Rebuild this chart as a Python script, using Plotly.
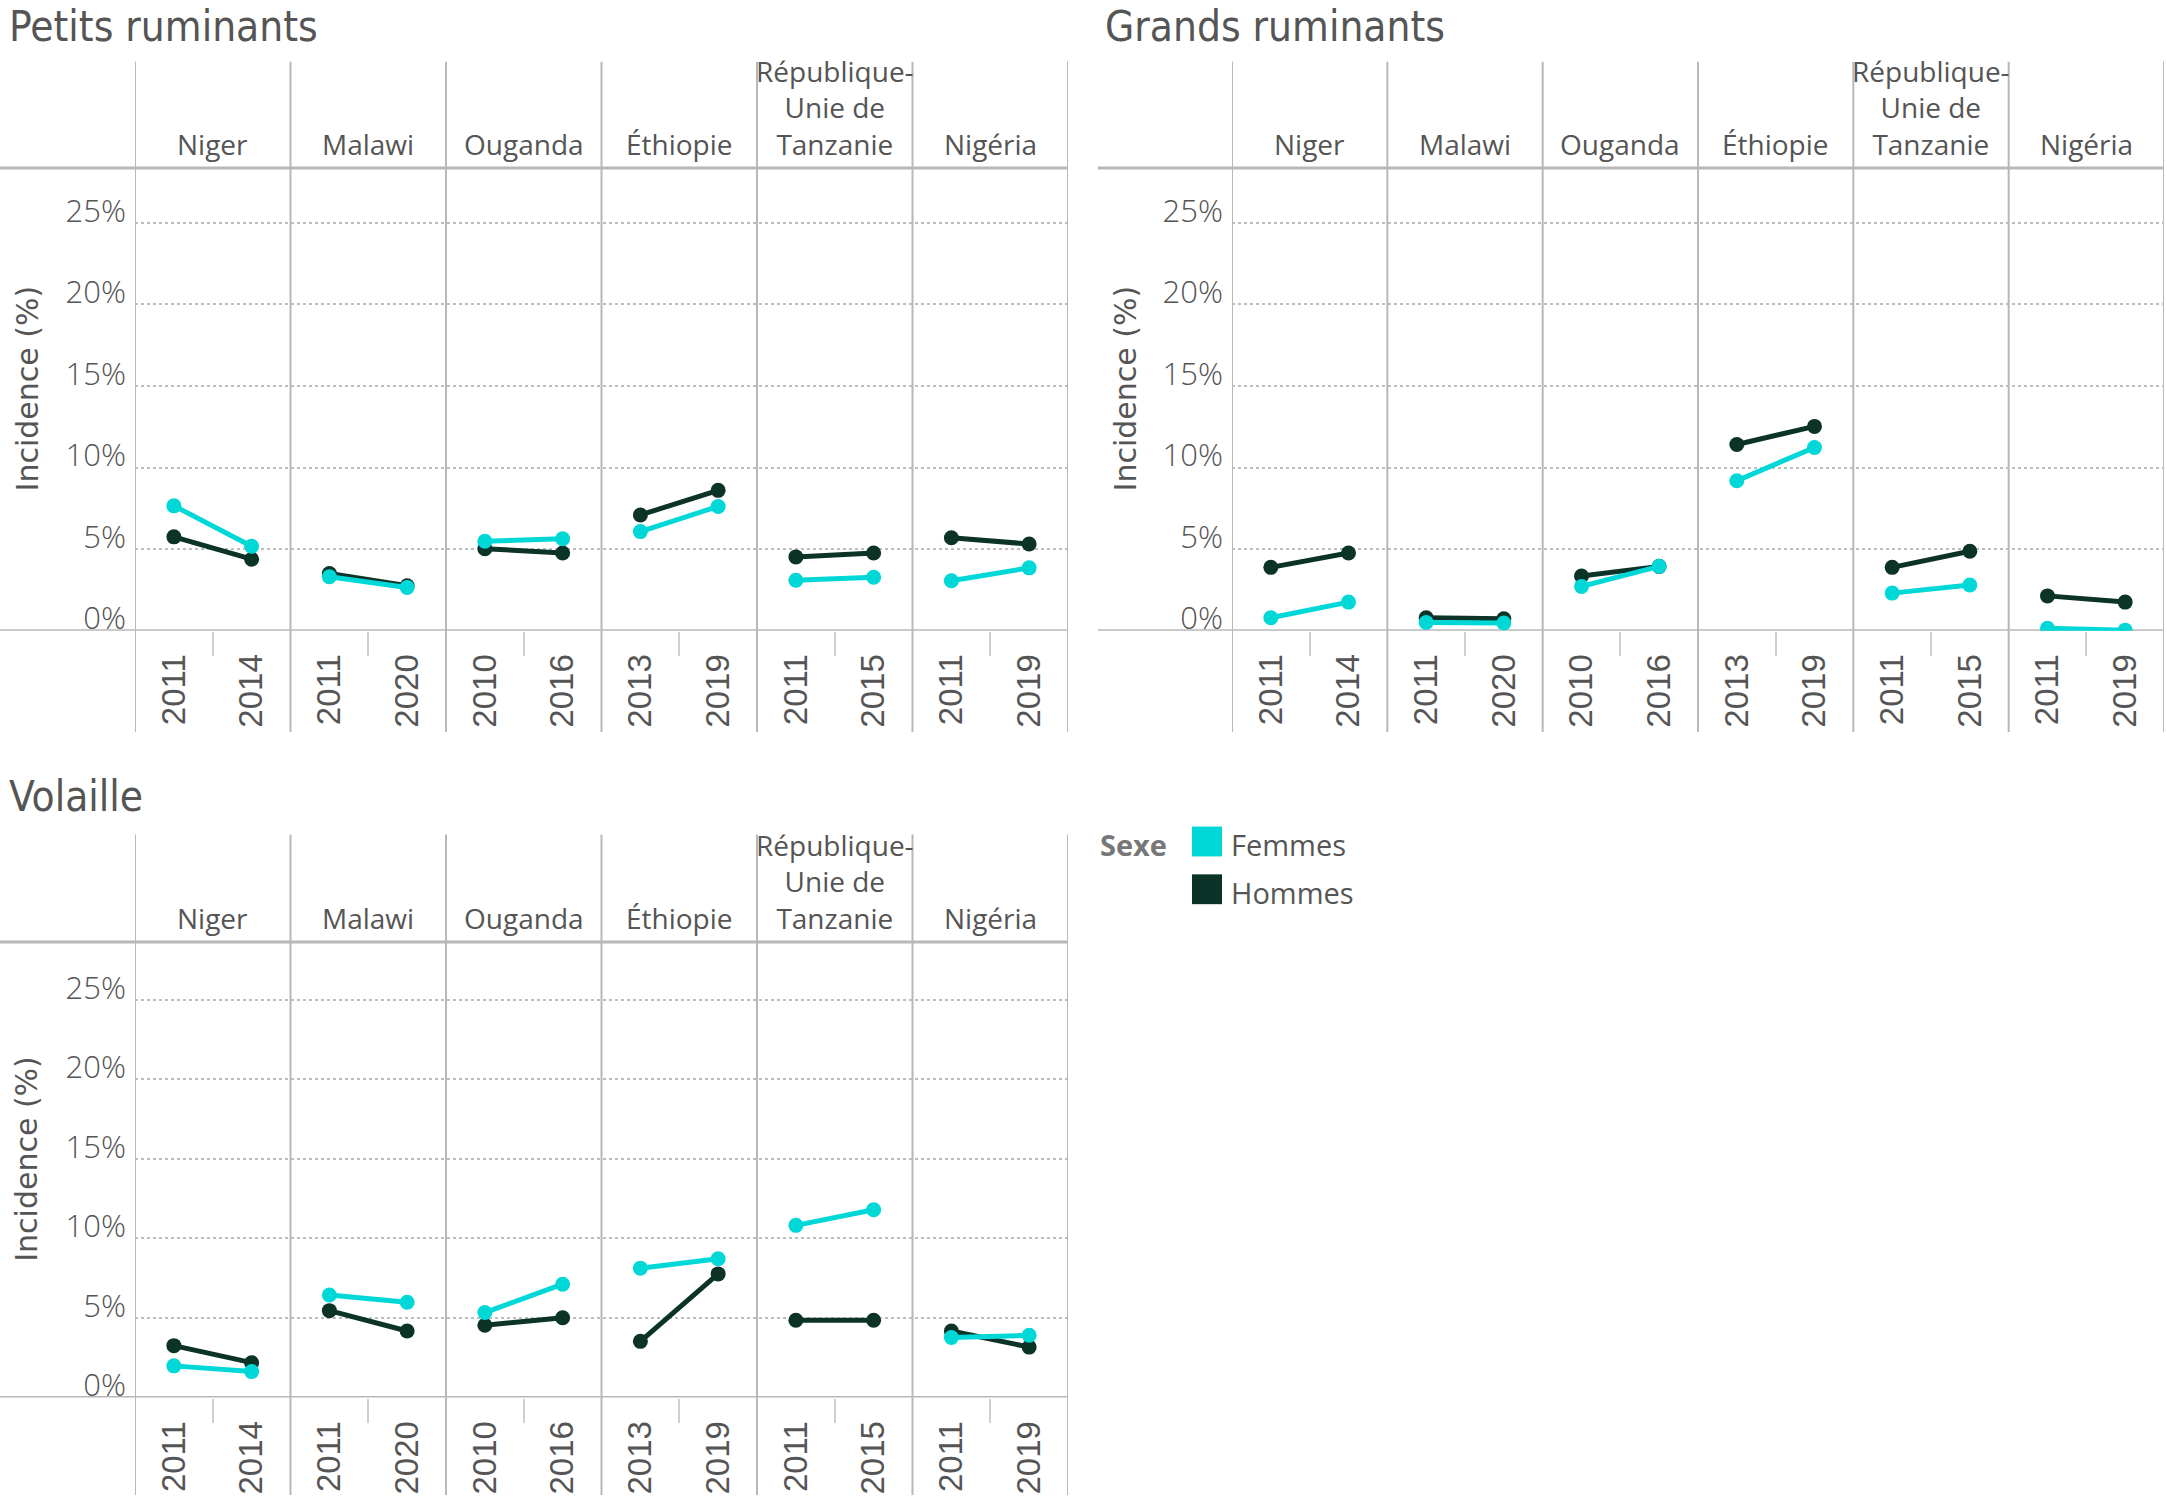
import plotly.graph_objects as go

# ---------------- data ----------------
pays = ["Niger", "Malawi", "Ouganda", "Éthiopie", "République-Unie de Tanzanie", "Nigéria"]
pays_lignes = [["Niger"], ["Malawi"], ["Ouganda"], ["Éthiopie"],
               ["République-", "Unie de", "Tanzanie"], ["Nigéria"]]
annees = [["2011", "2014"], ["2011", "2020"], ["2010", "2016"],
          ["2013", "2019"], ["2011", "2015"], ["2011", "2019"]]

# values (%), pairs per country in the order of `pays`
petits_femmes = [7.65, 5.17, 3.30, 2.65, 5.48, 5.63, 6.07, 7.61, 3.09, 3.27, 3.06, 3.85]
petits_hommes = [5.75, 4.38, 3.50, 2.75, 5.02, 4.76, 7.09, 8.60, 4.52, 4.76, 5.69, 5.31]

grands_femmes = [0.79, 1.75, 0.50, 0.47, 2.71, 3.94, 9.19, 11.23, 2.30, 2.80, 0.15, 0.03]
grands_hommes = [3.88, 4.76, 0.79, 0.73, 3.35, 3.94, 11.41, 12.52, 3.88, 4.87, 2.13, 1.75]

volaille_femmes = [1.99, 1.63, 6.44, 5.99, 5.34, 7.12, 8.13, 8.72, 10.82, 11.80, 3.77, 3.91]
volaille_hommes = [3.26, 2.19, 5.46, 4.18, 4.54, 5.01, 3.53, 7.77, 4.86, 4.86, 4.18, 3.17]

y_ticks = [0, 5, 10, 15, 20, 25]
y_ticktext = ["0%", "5%", "10%", "15%", "20%", "25%"]

series = [("Hommes", "#0b3327"), ("Femmes", "#00d8d8")]

# ---------------- layout helpers ----------------
W, H = 2167, 1506
def fx(px):
    return px / W
def fy(py):
    return 1 - py / H

FONT = "Open Sans, Noto Sans, sans-serif"
COND = "Liberation Sans Narrow, DejaVu Sans Condensed, Roboto, sans-serif"
TXT = "#555555"
LINE = "#b8b8b8"

panels = [
    dict(title="Petits ruminants", f=petits_femmes, h=petits_hommes,
         x0=135, x1=1068, ytop=169, ybot=634, px5=82, hdr=62, vbot=736,
         tx=7, ty=0, lx=0, ytx=27),
    dict(title="Grands ruminants", f=grands_femmes, h=grands_hommes,
         x0=1232, x1=2164, ytop=169, ybot=634, px5=82, hdr=62, vbot=736,
         tx=1103, ty=0, lx=1098, ytx=1125),
    dict(title="Volaille", f=volaille_femmes, h=volaille_hommes,
         x0=135, x1=1068, ytop=947, ybot=1405, px5=80, hdr=839, vbot=1503,
         tx=7, ty=774, lx=0, ytx=27),
]

fig = go.Figure()
shapes = []
annotations = []
layout = {}

tickvals = [i * 2 + j for i in range(len(pays)) for j in range(2)]
ticktext = [annees[i][j] for i in range(len(pays)) for j in range(2)]

for k, p in enumerate(panels):
    n = "" if k == 0 else str(k + 1)
    xa, ya = "x" + n, "y" + n
    xkey, ykey = "xaxis" + n, "yaxis" + n

    # traces (Hommes first so Femmes is drawn on top)
    for name, color in series:
        vals = p["h"] if name == "Hommes" else p["f"]
        xs, ys = [], []
        for i in range(len(pays)):
            xs += [i * 2, i * 2 + 1, None]
            ys += [vals[i * 2], vals[i * 2 + 1], None]
        fig.add_trace(go.Scatter(
            x=xs, y=ys, xaxis=xa, yaxis=ya, mode="lines+markers", name=name,
            line=dict(color=color, width=5), marker=dict(color=color, size=15),
            showlegend=False, hoverinfo="skip", connectgaps=False))

    yr = 5 * (p["ybot"] - p["ytop"]) / p["px5"]
    layout[xkey] = dict(
        domain=[fx(p["x0"]), fx(p["x1"])], range=[-0.5, 11.5], anchor=ya,
        tickmode="array", tickvals=tickvals, ticktext=ticktext, tickangle=-90,
        ticks="", showgrid=False, zeroline=False, showline=False,
        tickfont=dict(family="Liberation Sans, Arial, sans-serif", size=33, color=TXT),
        ticklabelstandoff=16,
        minor=dict(tickvals=[i * 2 + 0.5 for i in range(len(pays))], ticks="outside",
                   ticklen=24, tickwidth=2, tickcolor="#cfcfcf", showgrid=False),
        fixedrange=True)
    layout[ykey] = dict(
        domain=[fy(p["ybot"]), fy(p["ytop"])], range=[0, yr], anchor=xa,
        tickmode="array", tickvals=y_ticks, ticktext=y_ticktext,
        showgrid=True, gridcolor="#bdbdbd", griddash="dot", gridwidth=2,
        zeroline=False, showline=False, ticks="",
        tickfont=dict(family=FONT, size=31, color=TXT, weight=300),
        ticklabelshift=-12, ticklabelstandoff=8, fixedrange=True)

    # column dividers
    for i in range(len(pays) + 1):
        shapes.append(dict(type="line", xref=xa, yref="paper",
                           x0=i * 2 - 0.5, x1=i * 2 - 0.5,
                           y0=fy(p["hdr"]), y1=fy(p["vbot"]),
                           line=dict(color=LINE, width=2), layer="between"))
    # header line and zero line
    shapes.append(dict(type="line", xref="paper", yref=ya + " domain",
                       x0=fx(p["lx"]), x1=fx(p["x1"]), y0=1, y1=1,
                       line=dict(color=LINE, width=3), layer="between"))
    shapes.append(dict(type="line", xref="paper", yref=ya,
                       x0=fx(p["lx"]), x1=fx(p["x1"]), y0=0, y1=0,
                       line=dict(color=LINE, width=3), layer="between"))

    # country headers
    for i, lignes in enumerate(pays_lignes):
        annotations.append(dict(text="<br>".join(lignes), xref=xa, yref=ya + " domain",
                                x=i * 2 + 0.5, y=1,
                                xanchor="center", yanchor="bottom", yshift=3,
                                showarrow=False, align="center",
                                font=dict(family=FONT, size=28, color=TXT)))
    # panel title
    annotations.append(dict(text=p["title"], xref="paper", yref="paper",
                            x=fx(p["tx"]), y=fy(p["ty"]), xanchor="left", yanchor="top",
                            showarrow=False, font=dict(family=COND, size=42, color=TXT)))
    # y title
    annotations.append(dict(text="Incidence (%)", xref="paper", yref="paper",
                            x=fx(p["ytx"]), y=fy((p["ytop"] + p["ybot"]) / 2 - 11),
                            xanchor="center", yanchor="middle", textangle=-90,
                            showarrow=False,
                            font=dict(family="DejaVu Sans, sans-serif", size=30, color=TXT)))

# legend (manual)
annotations.append(dict(text="<b>Sexe</b>", xref="paper", yref="paper", x=fx(1098), y=fy(849),
                        xanchor="left", yanchor="middle", showarrow=False,
                        font=dict(family=FONT, size=29, color="#777777")))
for j, (name, color) in enumerate([("Femmes", "#00d8d8"), ("Hommes", "#0b3327")]):
    top = 831 + j * 48
    shapes.append(dict(type="rect", xref="paper", yref="paper",
                       x0=fx(1192), x1=fx(1222), y0=fy(top + 30), y1=fy(top),
                       fillcolor=color, line=dict(width=0)))
    annotations.append(dict(text=name, xref="paper", yref="paper", x=fx(1229), y=fy(top + 18),
                            xanchor="left", yanchor="middle", showarrow=False,
                            font=dict(family=FONT, size=29, color=TXT)))

fig.update_layout(
    width=W, height=H, margin=dict(l=0, r=0, t=0, b=0),
    paper_bgcolor="white", plot_bgcolor="white",
    shapes=shapes, annotations=annotations, showlegend=False, **layout)

fig.write_html("out.html", config={"displayModeBar": False},
               post_script="document.body.style.margin='0';document.body.style.overflow='hidden';")
